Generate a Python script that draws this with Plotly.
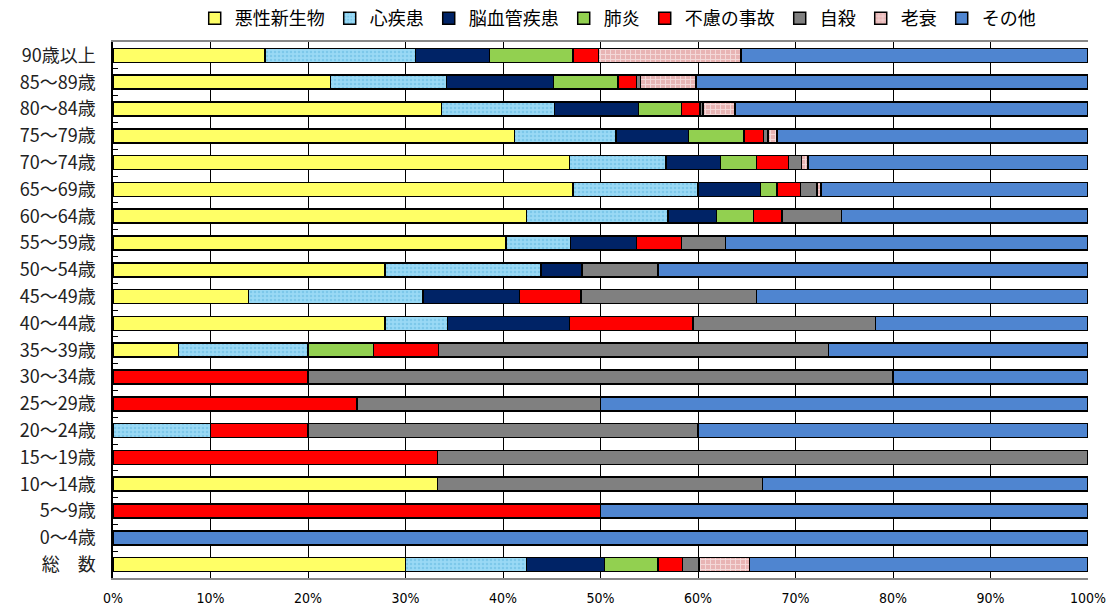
import plotly.graph_objects as go

# Age groups, listed top to bottom
age_groups = ["90歳以上", "85～89歳", "80～84歳", "75～79歳", "70～74歳", "65～69歳",
              "60～64歳", "55～59歳", "50～54歳", "45～49歳", "40～44歳", "35～39歳",
              "30～34歳", "25～29歳", "20～24歳", "15～19歳", "10～14歳", "5～9歳",
              "0～4歳", "総\u3000数"]

# Share of deaths by cause (%) for each age group
akusei_shinseibutsu = [15.6, 22.3, 33.7, 41.2, 46.8, 47.2, 42.4, 40.3, 27.9, 13.9, 27.9, 6.7,
                       0, 0, 0, 0, 33.3, 0, 0, 30.0]
shinshikkan = [15.4, 11.9, 11.6, 10.4, 9.9, 12.8, 14.5, 6.6, 16.0, 17.9, 6.4, 13.3,
               0, 0, 10.0, 0, 0, 0, 0, 12.4]
noukekkan = [7.6, 11.0, 8.6, 7.4, 5.6, 6.4, 5.0, 6.8, 4.2, 9.9, 12.5, 0,
             0, 0, 0, 0, 0, 0, 0, 8.0]
haien = [8.6, 6.6, 4.4, 5.7, 3.7, 1.7, 3.8, 0, 0, 0, 0, 6.7,
         0, 0, 0, 0, 0, 0, 0, 5.5]
furyo_jiko = [2.6, 1.9, 1.9, 2.0, 3.3, 2.4, 2.9, 4.6, 0, 6.3, 12.7, 6.7,
              20.0, 25.0, 10.0, 33.3, 0, 50.0, 0, 2.5]
jisatsu = [0, 0.4, 0.3, 0.5, 1.3, 1.7, 6.1, 4.5, 7.8, 18.0, 18.7, 40.0,
           60.0, 25.0, 40.0, 66.7, 33.3, 0, 0, 1.7]
rousui = [14.6, 5.7, 3.3, 0.9, 0.7, 0.4, 0, 0, 0, 0, 0, 0,
          0, 0, 0, 0, 0, 0, 0, 5.2]
sonota = [35.6, 40.2, 36.2, 31.9, 28.7, 27.4, 25.3, 37.2, 44.1, 34.0, 21.8, 26.6,
          20.0, 50.0, 40.0, 0, 33.4, 50.0, 100.0, 34.7]

x_ticks = [0, 10, 20, 30, 40, 50, 60, 70, 80, 90, 100]
x_tick_labels = ["0%", "10%", "20%", "30%", "40%", "50%", "60%", "70%", "80%", "90%", "100%"]

series = [
    ("悪性新生物", akusei_shinseibutsu, "#FFFF66", None),
    ("心疾患", shinshikkan, "#86CFEF", dict(shape=".", fgcolor="#5FB8E0", bgcolor="#9AD9F5", size=4, solidity=0.35)),
    ("脳血管疾患", noukekkan, "#002366", None),
    ("肺炎", haien, "#92D050", None),
    ("不慮の事故", furyo_jiko, "#FF0000", None),
    ("自殺", jisatsu, "#808080", None),
    ("老衰", rousui, "#EDBDBD", dict(shape="+", fgcolor="#FFFFFF", bgcolor="#E8B4B4", size=5, solidity=0.35)),
    ("その他", sonota, "#4F85D0", None),
]

fig = go.Figure()
for name, vals, color, pattern in series:
    marker = dict(color=color, line=dict(color="#000000", width=1.5))
    if pattern:
        marker["pattern"] = pattern
    fig.add_trace(go.Bar(
        name=name,
        y=age_groups,
        x=[v if v else None for v in vals],
        orientation="h",
        marker=marker,
        width=0.52,
    ))

font_family = "Noto Sans CJK JP"
fig.update_layout(
    barmode="stack",
    width=1113,
    height=608,
    margin=dict(l=113, r=25, t=42, b=30, autoexpand=False),
    paper_bgcolor="#FFFFFF",
    plot_bgcolor="#FFFFFF",
    font=dict(family=font_family, color="#000000"),
    legend=dict(
        orientation="h",
        x=0.555, xanchor="center", xref="container",
        y=1.0, yanchor="top", yref="container",
        font=dict(size=18, family=font_family),
        itemwidth=30,
        traceorder="normal",
        bgcolor="rgba(0,0,0,0)",
    ),
    xaxis=dict(
        range=[0, 100],
        tickvals=x_ticks,
        ticktext=x_tick_labels,
        showgrid=True,
        gridcolor="#000000",
        gridwidth=1,
        ticks="outside",
        ticklen=6,
        tickcolor="rgba(0,0,0,0)",
        tickfont=dict(size=14, family="Liberation Sans Narrow, DejaVu Sans Condensed, sans-serif"),
        showline=True,
        linecolor="#888888",
        linewidth=1.5,
        mirror=True,
        zeroline=False,
        automargin=False,
    ),
    yaxis=dict(
        autorange="reversed",
        tickson="boundaries",
        ticks="inside",
        ticklen=5,
        tickcolor="#000000",
        showgrid=False,
        showline=True,
        linecolor="#000000",
        linewidth=1.5,
        tickfont=dict(size=18, family=font_family, color="#222222"),
        ticklabelstandoff=12,
        automargin=False,
    ),
)

fig.write_html("out.html")
